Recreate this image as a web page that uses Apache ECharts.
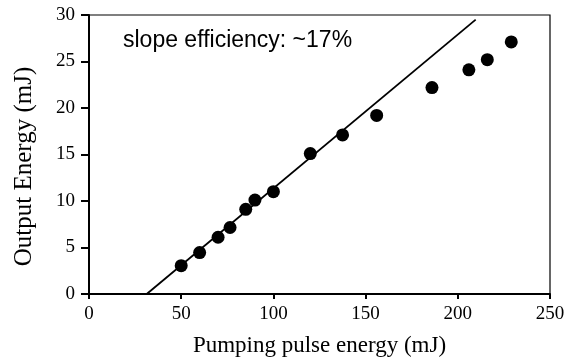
<!DOCTYPE html>
<html>
<head>
<meta charset="utf-8">
<script src="https://cdn.jsdelivr.net/npm/echarts@6/dist/echarts.min.js"></script>
<style>
  html, body { margin: 0; padding: 0; background: #fff; }
  #chart { width: 567px; height: 361px; }
</style>
</head>
<body>
<div id="chart"></div>
<script>
// measured points: pumping energy (mJ) vs output energy (mJ)
var pumpEnergy = [50, 60, 70, 76.5, 85, 90, 100, 120, 137.5, 156, 186, 206, 216, 229];
var outputEnergy = [3.05, 4.45, 6.1, 7.15, 9.1, 10.1, 11.0, 15.1, 17.1, 19.2, 22.2, 24.1, 25.2, 27.1];
// fitted slope line ends
var fitX = [31.3, 209.7];
var fitY = [0, 29.5];
var xTicks = [0, 50, 100, 150, 200, 250];
var yTicks = [0, 5, 10, 15, 20, 25, 30];

var myChart = echarts.init(document.getElementById('chart'));
var serif = '"Liberation Serif", "Times New Roman", serif';

var option = {
    animation: false,
    grid: {
        left: 89, right: 17, top: 15, bottom: 67,
        outerBoundsMode: 'none',
        show: true, borderColor: '#000', borderWidth: 1.2
    },
    xAxis: {
        type: 'value',
        min: xTicks[0], max: xTicks[xTicks.length - 1], interval: 50,
        name: 'Pumping pulse energy (mJ)',
        nameLocation: 'middle', nameGap: 40,
        nameTextStyle: { fontFamily: serif, fontSize: 23, color: '#000' },
        axisLine: { lineStyle: { color: '#000', width: 2 } },
        axisTick: { show: true, length: 5, lineStyle: { color: '#000', width: 2 } },
        axisLabel: { fontFamily: serif, fontSize: 19, color: '#000', margin: 11 },
        splitLine: { show: false }
    },
    yAxis: {
        type: 'value',
        min: yTicks[0], max: yTicks[yTicks.length - 1], interval: 5,
        name: 'Output Energy (mJ)',
        nameLocation: 'middle', nameGap: 52,
        nameTextStyle: { fontFamily: serif, fontSize: 25, color: '#000', padding: [0, 24, 0, 0] },
        axisLine: { lineStyle: { color: '#000', width: 2 } },
        axisTick: { show: true, length: 8, lineStyle: { color: '#000', width: 2 } },
        axisLabel: { fontFamily: serif, fontSize: 19, color: '#000', margin: 14 },
        splitLine: { show: false }
    },
    graphic: [{
        type: 'text',
        left: 123, top: 29,
        style: {
            text: 'slope efficiency: ~17%',
            font: '23px "Liberation Sans", Arial, sans-serif',
            fill: '#000'
        }
    }],
    series: [{
        type: 'line',
        data: fitX.map(function (x, i) { return [x, fitY[i]]; }),
        symbol: 'none',
        lineStyle: { color: '#000', width: 1.8 },
        z: 2
    }, {
        type: 'scatter',
        data: pumpEnergy.map(function (x, i) { return [x, outputEnergy[i]]; }),
        symbol: 'circle',
        symbolSize: 13,
        itemStyle: { color: '#000', opacity: 1 },
        z: 3
    }]
};
myChart.setOption(option);
</script>
</body>
</html>
